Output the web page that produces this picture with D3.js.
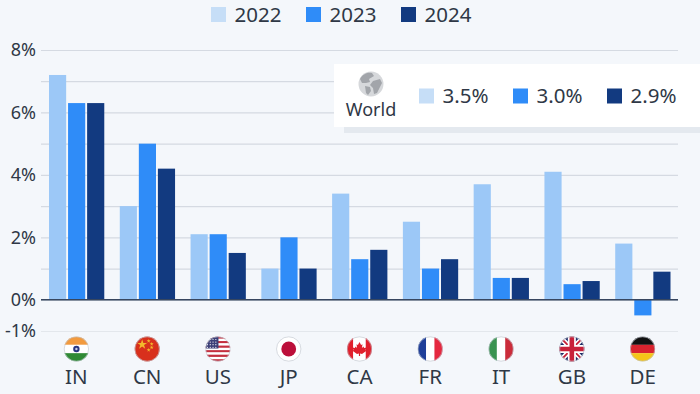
<!DOCTYPE html>
<html>
<head>
<meta charset="utf-8">
<script src="https://cdn.jsdelivr.net/npm/d3@7"></script>
<style>
  html, body { margin: 0; padding: 0; background: #f4f7fb; }
  svg { display: block; }
  text { font-family: "Noto Sans", "Open Sans", sans-serif; fill: #2f3846; }
</style>
</head>
<body>
<div id="chart"></div>
<script>
// data
const categories = ["IN", "CN", "US", "JP", "CA", "FR", "IT", "GB", "DE"];
const years = ["2022", "2023", "2024"];
const values2022 = [7.2, 3.0, 2.1, 1.0, 3.4, 2.5, 3.7, 4.1, 1.8];
const values2023 = [6.3, 5.0, 2.1, 2.0, 1.3, 1.0, 0.7, 0.5, -0.5];
const values2024 = [6.3, 4.2, 1.5, 1.0, 1.6, 1.3, 0.7, 0.6, 0.9];
const worldValues = ["3.5%", "3.0%", "2.9%"];
const gridTicks = [-1, 0, 1, 2, 3, 4, 5, 6, 7, 8];
const labelledTicks = [-1, 0, 2, 4, 6, 8];

const width = 700, height = 394;
const barColors = ["#9cc8f7", "#2f8cf8", "#123a80"];
const keyColors = ["#c6def7", "#2f8cf8", "#123a80"];

const svg = d3.select("#chart").append("svg")
    .attr("width", width)
    .attr("height", height);

svg.append("rect")
    .attr("width", width)
    .attr("height", height)
    .attr("fill", "#f4f7fb");

const x = d3.scaleBand()
    .domain(categories)
    .range([41, 678]);

const xInner = d3.scaleBand()
    .domain(years)
    .range([8, x.bandwidth() - 7.5])
    .paddingInner(0.1);

const y = d3.scaleLinear()
    .domain([-1, 8])
    .range([331, 50]);

// Grid and y labels
const yAxis = svg.append("g")
    .attr("transform", "translate(41,0)")
    .call(d3.axisLeft(y)
        .tickValues(gridTicks)
        .tickSize(0)
        .tickPadding(5)
        .tickFormat(d => labelledTicks.includes(d) ? d + "%" : ""));

yAxis.select(".domain").remove();
yAxis.selectAll("text")
    .attr("font-size", 18)
    .style("font-family", "\"Noto Sans\", sans-serif")
    .style("fill", "#2f3846");
yAxis.selectAll(".tick line")
    .attr("x2", 637)
    .attr("stroke", d => d === -1 ? "#e3e7ec" : "#d5dae2")
    .attr("stroke-width", 1.2);

// Bars
const series = [values2022, values2023, values2024];
years.forEach((year, i) => {
    svg.append("g").selectAll("rect")
        .data(series[i])
        .join("rect")
        .attr("x", (d, j) => x(categories[j]) + xInner(year))
        .attr("y", d => y(Math.max(d, 0)))
        .attr("width", xInner.bandwidth())
        .attr("height", d => Math.abs(y(d) - y(0)))
        .attr("fill", barColors[i]);
});

// Zero line
svg.append("line")
    .attr("x1", 41)
    .attr("x2", 678)
    .attr("y1", y(0))
    .attr("y2", y(0))
    .attr("stroke", "#37465f")
    .attr("stroke-width", 1.4);

// Category labels
svg.append("g").selectAll("text")
    .data(categories)
    .join("text")
    .attr("x", d => x(d) + x.bandwidth() / 2)
    .attr("y", 383.5)
    .attr("text-anchor", "middle")
    .attr("font-size", 20.5)
    .text(d => d);

// Flags
const defs = svg.append("defs");
defs.append("clipPath").attr("id", "round")
    .append("circle").attr("r", 12.5);

function bands(g, colors, vertical) {
    const n = colors.length;
    colors.forEach((c, i) => {
        g.append("rect")
            .attr("x", vertical ? -12.5 + i * 25 / n : -12.5)
            .attr("y", vertical ? -12.5 : -12.5 + i * 25 / n)
            .attr("width", vertical ? 25 / n : 25)
            .attr("height", vertical ? 25 : 25 / n)
            .attr("fill", c);
    });
}

const flags = {
    IN: g => {
        bands(g, ["#f29a3e", "#ffffff", "#2f8a34"], false);
        g.append("circle").attr("r", 3.2).attr("fill", "#28357f");
        g.append("circle").attr("r", 1.2).attr("fill", "#c9cdea");
    },
    CN: g => {
        g.append("rect").attr("x", -13).attr("y", -13).attr("width", 26).attr("height", 26).attr("fill", "#d8301c");
        g.append("path").attr("d", d3.symbol(d3.symbolStar, 30)()).attr("transform", "translate(-5,-4.5)").attr("fill", "#f2b92c");
        [[1.5, -8], [4.5, -5], [4.5, -1.5], [1.5, 1]].forEach(p => {
            g.append("path").attr("d", d3.symbol(d3.symbolStar, 5)()).attr("transform", `translate(${p})`).attr("fill", "#f2b92c");
        });
    },
    US: g => {
        bands(g, ["#c4303f", "#fff", "#c4303f", "#fff", "#c4303f", "#fff", "#c4303f", "#fff", "#c4303f", "#fff", "#c4303f"], false);
        g.append("rect").attr("x", -12.5).attr("y", -12.5).attr("width", 13).attr("height", 12).attr("fill", "#3c3f78");
        d3.cross(d3.range(-10.5, 0, 2.8), d3.range(-9.5, -1, 2.6)).forEach(p => {
            g.append("circle").attr("cx", p[0]).attr("cy", p[1]).attr("r", 0.6).attr("fill", "#fff");
        });
    },
    JP: g => {
        g.append("rect").attr("x", -13).attr("y", -13).attr("width", 26).attr("height", 26).attr("fill", "#fff");
        g.append("circle").attr("r", 7.4).attr("fill", "#bc0f3a");
    },
    CA: g => {
        bands(g, ["#e0202c", "#ffffff", "#ffffff", "#e0202c"], true);
        g.append("path")
            .attr("d", "M0,-7 L1.6,-4 L3,-4.8 L2.4,-1 L4,-2.4 L4.6,-1 L7,-1.4 L6,1 L7,1.8 L2.5,5 L0.6,4.4 L0.6,7 L-0.6,7 L-0.6,4.4 L-2.5,5 L-7,1.8 L-6,1 L-7,-1.4 L-4.6,-1 L-4,-2.4 L-2.4,-1 L-3,-4.8 L-1.6,-4 Z")
            .attr("fill", "#e0202c");
    },
    FR: g => bands(g, ["#1f3f99", "#ffffff", "#e5283f"], true),
    IT: g => bands(g, ["#3a9350", "#ffffff", "#cb2c3a"], true),
    GB: g => {
        g.append("rect").attr("x", -13).attr("y", -13).attr("width", 26).attr("height", 26).attr("fill", "#1d2c66");
        g.append("path").attr("d", "M-13,-13 L13,13 M13,-13 L-13,13").attr("stroke", "#fff").attr("stroke-width", 5);
        g.append("path").attr("d", "M-13,-13 L13,13 M13,-13 L-13,13").attr("stroke", "#c8213a").attr("stroke-width", 1.8);
        g.append("path").attr("d", "M0,-13 V13 M-13,0 H13").attr("stroke", "#fff").attr("stroke-width", 8);
        g.append("path").attr("d", "M0,-13 V13 M-13,0 H13").attr("stroke", "#c8213a").attr("stroke-width", 4.6);
    },
    DE: g => bands(g, ["#111111", "#d9232e", "#f5c518"], false)
};

categories.forEach(c => {
    const outer = svg.append("g")
        .attr("transform", `translate(${x(c) + x.bandwidth() / 2},349)`);
    const g = outer.append("g").attr("clip-path", "url(#round)");
    flags[c](g);
    outer.append("circle")
        .attr("r", 12.2)
        .attr("fill", "none")
        .attr("stroke", "#bfc5ce")
        .attr("stroke-opacity", 0.8)
        .attr("stroke-width", 0.8);
});

// Top legend
const legendSwatchX = [211, 306, 401];
years.forEach((year, i) => {
    svg.append("rect")
        .attr("x", legendSwatchX[i])
        .attr("y", 7)
        .attr("width", 15)
        .attr("height", 15)
        .attr("fill", keyColors[i]);
    svg.append("text")
        .attr("x", legendSwatchX[i] + 23.5)
        .attr("y", 22)
        .attr("font-size", 20.5)
        .text(year);
});

// World panel
svg.append("rect")
    .attr("x", 344)
    .attr("y", 127)
    .attr("width", 356)
    .attr("height", 6)
    .attr("fill", "#e4e9ef");
svg.append("rect")
    .attr("x", 334)
    .attr("y", 64)
    .attr("width", 366)
    .attr("height", 63)
    .attr("fill", "#ffffff");

const globe = svg.append("g").attr("transform", "translate(371,84)");
globe.append("circle").attr("r", 12.5).attr("fill", "#d6d8db");
globe.append("path")
    .attr("d", "M-11,-5 C-8,-11 -2,-12 1,-11 L3,-8 L-2,-5 L-1,-2 L-5,-1 L-9,-1 Z M2,-3 L9,-5 L11,-1 L9,3 L6,9 L3,10 L2,4 L-1,1 Z")
    .attr("fill", "#a2a5aa");
globe.append("path")
    .attr("d", "M-6,2 L-1,3 L0,7 L-3,11 L-5,9 Z")
    .attr("fill", "#a2a5aa");
svg.append("text")
    .attr("x", 371)
    .attr("y", 116)
    .attr("text-anchor", "middle")
    .attr("font-size", 18)
    .text("World");

const worldSwatchX = [419, 513, 607];
worldValues.forEach((v, i) => {
    svg.append("rect")
        .attr("x", worldSwatchX[i])
        .attr("y", 88.5)
        .attr("width", 15)
        .attr("height", 15)
        .attr("fill", keyColors[i]);
    svg.append("text")
        .attr("x", worldSwatchX[i] + 23.5)
        .attr("y", 103)
        .attr("font-size", 20.5)
        .text(v);
});
</script>
</body>
</html>
